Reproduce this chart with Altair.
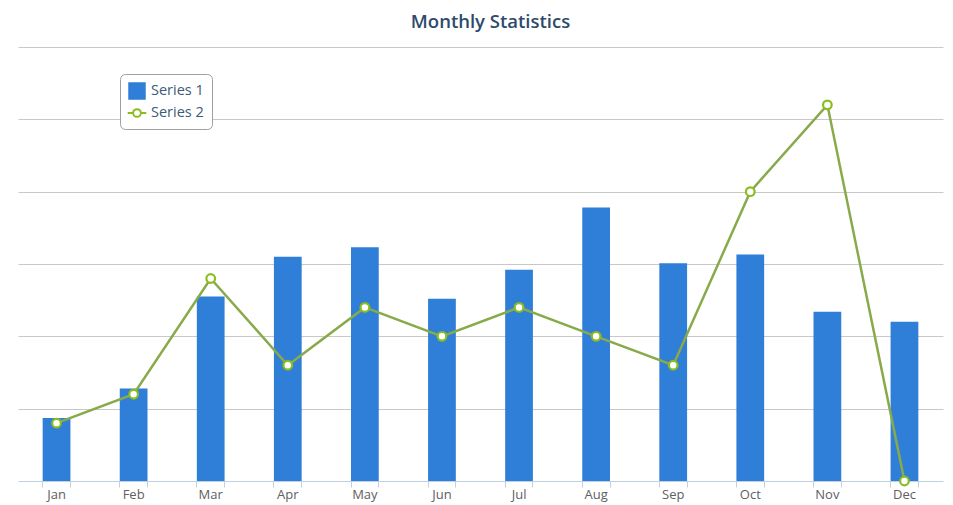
import altair as alt
import pandas as pd

months = ["Jan", "Feb", "Mar", "Apr", "May", "Jun", "Jul", "Aug", "Sep", "Oct", "Nov", "Dec"]
series1 = [8.7, 12.8, 25.5, 31.0, 32.3, 25.2, 29.2, 37.8, 30.1, 31.3, 23.4, 22.0]
series2 = [8, 12, 28, 16, 24, 20, 24, 20, 16, 40, 52, 0]
series_names = ["Series 1", "Series 2"]

rows = []
for m, a, b in zip(months, series1, series2):
    rows.append({"month": m, "series": "Series 1", "value": a})
    rows.append({"month": m, "series": "Series 2", "value": b})
df = pd.DataFrame(rows)

BLUE = "#2f7ed8"
GREEN = "#8bbc21"
LINE = "#88aa4a"

x_scale = alt.Scale(domain=months, paddingInner=0.64, paddingOuter=0.32)
y_scale = alt.Scale(domain=[0, 60], nice=False)
fill_scale = alt.Scale(domain=series_names, range=[BLUE, "#ffffff"])
stroke_scale = alt.Scale(domain=series_names, range=[BLUE, GREEN])
legend_path = ("M-1.2,0L-0.5,0M0.5,0L1.2,0"
               "M-0.5,0A0.5,0.5 0 1,0 0.5,0A0.5,0.5 0 1,0 -0.5,0Z")
shape_scale = alt.Scale(domain=series_names, range=["square", legend_path])

legend = alt.Legend(
    title=None, orient="none", legendX=102, legendY=27,
    fillColor="#ffffff", strokeColor="#a0a0a0", cornerRadius=5, padding=8,
    labelFont="Open Sans", labelFontSize=14.5, labelColor="#3e5a78",
    symbolSize=240, symbolStrokeWidth=2, rowPadding=1, labelOffset=5,
)

y_axis = alt.Axis(labels=False, ticks=False, domain=False, grid=True,
                  gridColor="#c8c8c8", gridWidth=1,
                  values=[10, 20, 30, 40, 50, 60], title=None)
y_enc = alt.Y("value:Q", scale=y_scale, axis=y_axis)

base = alt.Chart(df)

bars = base.transform_filter(alt.datum.series == "Series 1").mark_bar().encode(
    x=alt.X("month:N", sort=months, scale=x_scale,
            axis=alt.Axis(orient="bottom", title=None, ticks=False, grid=False,
                          domain=True, domainColor="#c0d0e0", domainWidth=1,
                          labelAngle=0, labelColor="#606060", labelFont="Open Sans",
                          labelFontSize=13, labelPadding=7)),
    y=y_enc,
    fill=alt.Fill("series:N", scale=fill_scale, legend=legend),
)

line = base.transform_filter(alt.datum.series == "Series 2").mark_line(
    strokeWidth=2.5, color=LINE
).encode(
    x=alt.X("month:N", sort=months, scale=x_scale,
            axis=alt.Axis(orient="bottom", title=None, labels=False, domain=False,
                          grid=False, ticks=True, tickColor="#c0d0e0", tickSize=6,
                          bandPosition=0)),
    y=y_enc,
)

points = base.transform_filter(alt.datum.series == "Series 2").mark_point(
    filled=True, size=75, strokeWidth=2.2, shape="circle", opacity=1
).encode(
    x=alt.X("month:N", sort=months, scale=x_scale,
            axis=alt.Axis(orient="bottom", title=None, labels=False, domain=False,
                          grid=False, ticks=True, tickColor="#c0d0e0", tickSize=6,
                          bandPosition=1)),
    y=y_enc,
    fill=alt.Fill("series:N", scale=fill_scale, legend=legend),
    stroke=alt.Stroke("series:N", scale=stroke_scale, legend=legend),
)

legend_shapes = base.transform_filter(alt.datum.series == "none").mark_point(
    filled=False, strokeWidth=2
).encode(
    x=alt.X("month:N", sort=months, scale=x_scale, axis=None),
    y=y_enc,
    shape=alt.Shape("series:N", scale=shape_scale, legend=legend),
    fill=alt.Fill("series:N", scale=fill_scale, legend=legend),
    stroke=alt.Stroke("series:N", scale=stroke_scale, legend=legend),
)

chart = alt.layer(bars, line, points, legend_shapes).resolve_axis(
    x="independent"
).properties(
    width=925, height=434,
    autosize=alt.AutoSizeParams(type="none"),
    padding={"left": 10, "top": 39, "right": 2, "bottom": 30},
    title=alt.Title("Monthly Statistics", font="Open Sans", fontSize=18.5,
                    fontWeight=600, color="#2d4a6b", anchor="middle",
                    baseline="alphabetic", offset=1, dx=10, frame="group"),
).configure_view(stroke=None)

chart.save("out.html", embed_options={"renderer": "svg", "actions": False})
